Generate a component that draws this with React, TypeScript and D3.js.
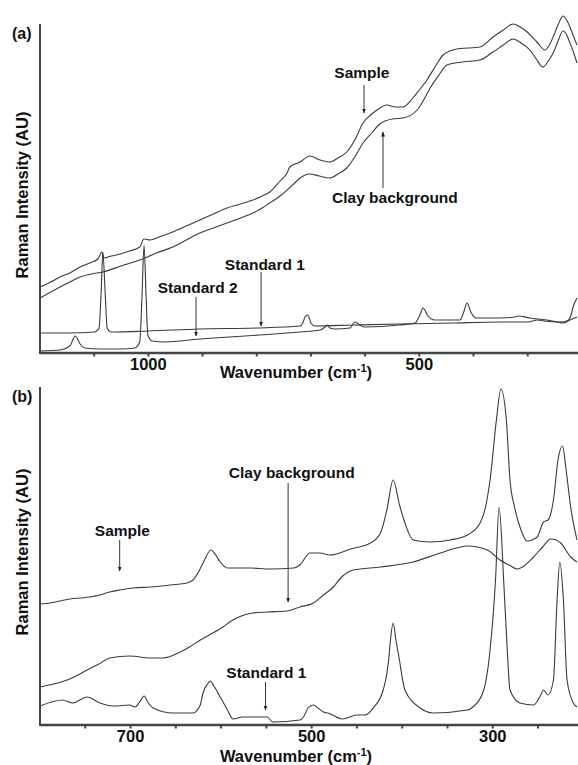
import React from "react";
import * as d3 from "d3";

// ---------- Panel (a) data: [wavenumber cm-1, intensity AU] ----------
const sampleA: [number, number][] = [
  [1200, 66], [1180, 71], [1163, 76], [1145, 80], [1126, 86], [1108, 90], [1093, 94], [1086, 101], [1082, 95],
  [1068, 97], [1052, 99], [1035, 102], [1016, 106], [1008, 114], [997, 113], [975, 117], [955, 121], [930, 127],
  [905, 133], [880, 139], [855, 145], [830, 149], [807, 153], [790, 157], [776, 161], [757, 172], [744, 180],
  [739, 186], [720, 191], [702, 197], [683, 193], [665, 191], [650, 195], [634, 201], [618, 214], [604, 230],
  [590, 238], [578, 243], [560, 248], [545, 246], [530, 246], [512, 255], [500, 263], [486, 273], [470, 287],
  [456, 298], [431, 304], [410, 305], [388, 306], [364, 316], [345, 323], [327, 329], [314, 326], [301, 321],
  [283, 311], [268, 303], [260, 308], [253, 316], [244, 328], [235, 337], [228, 333], [222, 326], [215, 316], [209, 308]
];
const clayA: [number, number][] = [
  [1200, 55], [1180, 61], [1163, 66], [1145, 71], [1126, 76], [1105, 79], [1084, 81], [1050, 87], [1016, 93],
  [985, 100], [955, 106], [930, 113], [905, 120], [880, 125], [855, 130], [830, 135], [807, 140], [790, 145],
  [776, 150], [757, 157], [744, 163], [730, 170], [720, 175], [702, 179], [685, 177], [665, 175], [650, 179],
  [634, 185], [618, 197], [604, 210], [588, 220], [573, 229], [550, 234], [530, 235], [504, 243], [492, 253],
  [480, 265], [465, 277], [449, 288], [420, 291], [388, 293], [364, 301], [345, 308], [327, 314], [312, 310],
  [296, 303], [284, 294], [272, 286], [262, 292], [253, 300], [244, 312], [235, 322], [228, 318], [222, 310],
  [215, 300], [209, 290]
];
const standard1A: [number, number][] = [
  [1200, 20], [1150, 20], [1099, 21], [1091, 25], [1087, 63], [1084, 101], [1080, 63], [1076, 25], [1069, 21],
  [1000, 22], [905, 24], [800, 25], [720, 27], [715, 30], [711, 36], [706, 38], [700, 30], [693, 27], [620, 28],
  [536, 29], [440, 30], [351, 31], [300, 31], [282, 33], [270, 32], [241, 31], [228, 32], [222, 35], [215, 48], [209, 55]
];
const standard2A: [number, number][] = [
  [1200, 2], [1163, 3], [1145, 7], [1135, 17], [1126, 9], [1117, 5], [1089, 4], [1050, 4], [1025, 5], [1016, 11],
  [1012, 53], [1008, 108], [1004, 53], [1001, 18], [993, 12], [969, 11], [905, 14], [850, 16], [794, 18], [720, 21],
  [683, 23], [674, 26], [670, 28], [665, 25], [656, 24], [628, 25], [619, 31], [610, 28], [600, 26], [536, 28],
  [508, 30], [499, 38], [493, 45], [484, 37], [471, 33], [453, 33], [425, 33], [418, 41], [412, 50], [405, 41],
  [396, 35], [351, 35], [324, 36], [318, 37], [296, 35], [265, 33], [245, 31], [235, 30], [222, 33], [209, 36]
];

// ---------- Panel (b) data ----------
const sampleB: [number, number][] = [
  [800, 121], [789, 122], [778, 124], [767, 126], [756, 127], [745, 128], [734, 130], [723, 133], [712, 135],
  [697, 137], [678, 138], [656, 140], [638, 142], [631, 145], [625, 153], [620, 162], [611, 175], [606, 170],
  [601, 163], [593, 157], [580, 157], [568, 157], [546, 156], [520, 157], [513, 160], [502, 172], [491, 172],
  [480, 170], [457, 176], [435, 182], [424, 192], [417, 215], [410, 245], [403, 220], [397, 202], [388, 185],
  [369, 183], [347, 185], [328, 190], [314, 202], [308, 218], [303, 245], [296, 305], [291, 336], [285, 305],
  [281, 245], [276, 218], [270, 198], [262, 184], [251, 188], [244, 203], [239, 205], [233, 225], [228, 265],
  [223, 279], [219, 255], [214, 218], [207, 185]
];
const clayB: [number, number][] = [
  [800, 38], [785, 41], [770, 45], [760, 49], [748, 55], [735, 61], [723, 67], [701, 69], [678, 67], [664, 67],
  [645, 73], [635, 78], [623, 85], [609, 92], [598, 98], [587, 105], [565, 112], [549, 113], [527, 114], [513, 118],
  [498, 122], [487, 130], [476, 138], [468, 147], [454, 155], [424, 158], [388, 163], [358, 172], [340, 177],
  [328, 179], [306, 175], [292, 165], [282, 160], [273, 156], [264, 160], [255, 168], [245, 178], [236, 186],
  [230, 185], [225, 182], [214, 168], [207, 163]
];
const standard1B: [number, number][] = [
  [800, 19], [775, 25], [764, 22], [748, 28], [734, 22], [719, 19], [701, 20], [695, 18], [690, 23], [685, 29],
  [681, 23], [675, 17], [653, 12], [631, 12], [623, 20], [620, 32], [615, 41], [612, 44], [608, 39], [601, 28],
  [593, 15], [587, 6], [576, 8], [549, 8], [543, 3], [513, 5], [509, 8], [504, 17], [498, 20], [493, 17], [487, 13],
  [482, 12], [466, 6], [450, 10], [441, 10], [432, 17], [421, 35], [415, 65], [413, 85], [410, 102], [407, 85],
  [404, 70], [397, 35], [380, 17], [366, 12], [328, 15], [322, 18], [310, 35], [303, 75], [297, 145], [293, 218],
  [288, 145], [284, 75], [281, 35], [270, 22], [255, 20], [247, 30], [244, 35], [239, 30], [233, 45], [229, 125],
  [226, 163], [222, 125], [218, 45], [211, 22], [207, 18]
];

// ---------- ticks ----------
const ticksA = [1100, 1000, 900, 800, 700, 600, 500, 400, 300];
const labelsA = [1000, 500];
const ticksB = [750, 700, 650, 600, 550, 500, 450, 400, 350, 300, 250];
const labelsB = [700, 500, 300];

// ---------- annotations: label [wn, I], arrow x wn, arrow from I to I ----------
const annotA = [
  { text: "Sample", lx: 606, ly: 275, ax: 602, a0: 268, a1: 240 },
  { text: "Clay background", lx: 545, ly: 150, ax: 567, a0: 165, a1: 221 },
  { text: "Standard 1", lx: 785, ly: 83, ax: 792, a0: 81, a1: 27 },
  { text: "Standard 2", lx: 909, ly: 60, ax: 912, a0: 56, a1: 17 },
];
const annotB = [
  { text: "Sample", lx: 709, ly: 189, ax: 712, a0: 185, a1: 154 },
  { text: "Clay background", lx: 522, ly: 247, ax: 526, a0: 242, a1: 123 },
  { text: "Standard 1", lx: 550, ly: 47, ax: 551, a0: 43, a1: 15 },
];

const FONT = "'Liberation Sans', Arial, Helvetica, sans-serif";
const LINE = "#3a3a3a";
const AXIS = "#444";

type Panel = {
  id: string;
  letter: string;
  x: d3.ScaleLinear<number, number>;
  y: d3.ScaleLinear<number, number>;
  series: [number, number][][];
  ticks: number[];
  labels: number[];
  annots: typeof annotA;
  tickBase: number;
  xLabelBase: number;
  yLabelCenter: number;
  letterBase: number;
};

function PanelView({ p }: { p: Panel }) {
  const [x0, x1] = p.x.range();
  const [yb, yt] = p.y.range();
  const line = d3
    .line<[number, number]>()
    .x((d) => p.x(d[0]))
    .y((d) => p.y(d[1]))
    .curve(d3.curveMonotoneX);
  return (
    <g>
      {p.series.map((s, i) => (
        <path key={i} d={line(s) || ""} fill="none" stroke={LINE} strokeWidth={1.1} />
      ))}
      <line x1={x0} x2={x0} y1={yt} y2={yb + 1} stroke={AXIS} strokeWidth={2} />
      <line x1={x0} x2={578} y1={yb} y2={yb} stroke={AXIS} strokeWidth={2.4} />
      {p.ticks.map((t) => (
        <line key={t} x1={p.x(t)} x2={p.x(t)} y1={yb} y2={yb + 3.5} stroke={AXIS} strokeWidth={2} />
      ))}
      {p.labels.map((t) => (
        <text key={t} x={p.x(t)} y={p.tickBase} textAnchor="middle" fontFamily={FONT} fontWeight="bold" fontSize={16.5} fill="#111">
          {t}
        </text>
      ))}
      <text x={296} y={p.xLabelBase} textAnchor="middle" fontFamily={FONT} fontWeight="bold" fontSize={16.5} fill="#111">
        Wavenumber (cm
        <tspan fontSize={11} dy={-6}>-1</tspan>
        <tspan dy={6}>)</tspan>
      </text>
      <text
        transform={`translate(28,${p.yLabelCenter}) rotate(-90)`}
        textAnchor="middle"
        fontFamily={FONT}
        fontWeight="bold"
        fontSize={16.5}
        fill="#111"
      >
        Raman Intensity (AU)
      </text>
      <text x={12} y={p.letterBase} fontFamily={FONT} fontWeight="bold" fontSize={16} fill="#111">
        {p.letter}
      </text>
      {p.annots.map((a, i) => (
        <g key={i}>
          <text x={p.x(a.lx)} y={p.y(a.ly)} textAnchor="middle" fontFamily={FONT} fontWeight="bold" fontSize={15.5} fill="#111">
            {a.text}
          </text>
          <line
            x1={p.x(a.ax)}
            x2={p.x(a.ax)}
            y1={p.y(a.a0)}
            y2={p.y(a.a1)}
            stroke="#333"
            strokeWidth={1}
            markerEnd={`url(#arrow-${p.id})`}
          />
        </g>
      ))}
      <defs>
        <marker id={`arrow-${p.id}`} viewBox="0 0 10 10" refX={9} refY={5} markerWidth={5} markerHeight={5} orient="auto">
          <path d="M0,1 L10,5 L0,9 z" fill="#222" />
        </marker>
      </defs>
    </g>
  );
}

export default function App() {
  const panelA: Panel = {
    id: "a",
    letter: "(a)",
    x: d3.scaleLinear().domain([1200, 209]).range([40, 577]),
    y: d3.scaleLinear().domain([0, 329]).range([353, 24]),
    series: [sampleA, clayA, standard1A, standard2A],
    ticks: ticksA,
    labels: labelsA,
    annots: annotA,
    tickBase: 370,
    xLabelBase: 378,
    yLabelCenter: 195,
    letterBase: 39,
  };
  const panelB: Panel = {
    id: "b",
    letter: "(b)",
    x: d3.scaleLinear().domain([800, 207]).range([40, 577]),
    y: d3.scaleLinear().domain([0, 338]).range([725, 387]),
    series: [sampleB, clayB, standard1B],
    ticks: ticksB,
    labels: labelsB,
    annots: annotB,
    tickBase: 742,
    xLabelBase: 762,
    yLabelCenter: 552,
    letterBase: 402,
  };
  return (
    <svg width={578} height={765} style={{ position: "absolute", left: 0, top: 0, background: "#fff" }}>
      <rect width={578} height={765} fill="#fff" />
      <PanelView p={panelA} />
      <PanelView p={panelB} />
    </svg>
  );
}
